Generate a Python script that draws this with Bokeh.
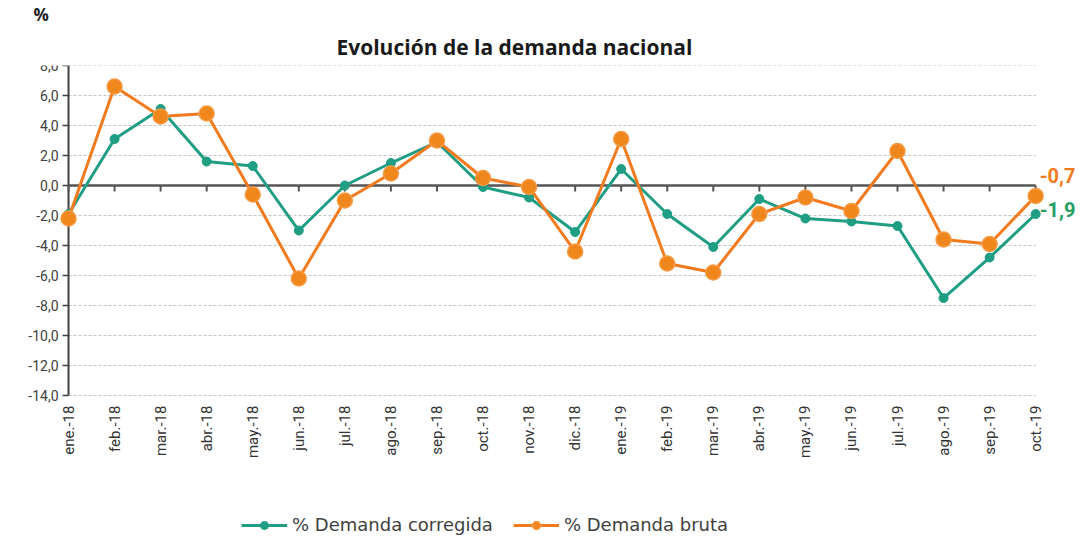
from bokeh.plotting import figure
from bokeh.models import Range1d, Label, Legend, LegendItem, ColumnDataSource, Title
from bokeh.core.properties import value
from bokeh.embed import file_html
from bokeh.resources import INLINE
import math

months = ["ene.-18", "feb.-18", "mar.-18", "abr.-18", "may.-18", "jun.-18", "jul.-18",
          "ago.-18", "sep.-18", "oct.-18", "nov.-18", "dic.-18", "ene.-19", "feb.-19",
          "mar.-19", "abr.-19", "may.-19", "jun.-19", "jul.-19", "ago.-19", "sep.-19", "oct.-19"]
corregida = [-1.9, 3.1, 5.1, 1.6, 1.3, -3.0, 0.0, 1.5, 2.9, -0.1, -0.8, -3.1, 1.1, -1.9,
             -4.1, -0.9, -2.2, -2.4, -2.7, -7.5, -4.8, -1.9]
bruta = [-2.2, 6.6, 4.6, 4.8, -0.6, -6.2, -1.0, 0.8, 3.0, 0.5, -0.1, -4.4, 3.1, -5.2,
         -5.8, -1.9, -0.8, -1.7, 2.3, -3.6, -3.9, -0.7]
y_ticks = [-14, -12, -10, -8, -6, -4, -2, 0, 2, 4, 6, 8]

GREEN = "#1f9e84"
ORANGE = "#f27a1f"
ORANGE_FILL = "#f0871c"
FONT = "Roboto"
AXIS = "#404040"

xs = list(range(len(months)))
last = len(months) - 1
ymin, ymax = min(y_ticks), max(y_ticks)
y_labels = [f"{v:.1f}".replace(".", ",") for v in y_ticks]
src = ColumnDataSource(dict(x=xs, c=corregida, b=bruta))

# the frame covers the whole canvas width and extends below the value range
# (month labels and legend are drawn inside it)
p = figure(frame_width=1078, frame_height=473, output_backend="svg", toolbar_location=None,
           x_range=Range1d(-1.477, last + 0.93), y_range=Range1d(ymin - 9.53, ymax),
           min_border_left=0, min_border_right=2, min_border_top=63, min_border_bottom=0)
p.outline_line_color = None
p.background_fill_color = "white"
p.xgrid.grid_line_color = None
p.ygrid.grid_line_color = None
p.xaxis.visible = False
p.yaxis.visible = False

# dashed grid lines over the month span
grid_y = [t for t in y_ticks if t != 0]
p.segment(x0=[0] * len(grid_y), y0=grid_y, x1=[last] * len(grid_y), y1=grid_y,
          line_color="#c4c4c4", line_dash="3 2", line_width=1)

# value axis: line, outward ticks and labels
p.segment(x0=[0], y0=[ymin], x1=[0], y1=[ymax], line_color=AXIS, line_width=2)
p.segment(x0=[0] * len(y_ticks), y0=y_ticks, x1=[-0.13] * len(y_ticks), y1=y_ticks,
          line_color=AXIS, line_width=1.5)
p.text(x=[0] * len(y_ticks), y=y_ticks, text=y_labels, x_offset=-10,
       text_align="right", text_baseline="middle", text_font=value(FONT),
       text_font_size="14px", text_color=AXIS)

# zero line with category ticks
p.segment(x0=[0], y0=[0], x1=[last], y1=[0], line_color="#555555", line_width=2.5)
p.segment(x0=xs, y0=[0] * len(xs), x1=xs, y1=[-0.4] * len(xs), line_color="#555555", line_width=2)

# month labels, vertical, under the bottom of the value range
p.text(x=xs, y=[ymin - 0.67] * len(xs), text=months, angle=math.pi / 2,
       text_align="right", text_baseline="middle", text_font=value(FONT),
       text_font_size="15px", text_color="#333333")

# series
lc = p.line("x", "c", source=src, line_color=GREEN, line_width=3)
sc = p.scatter("x", "c", source=src, size=9, fill_color=GREEN, line_color=GREEN)
lb = p.line("x", "b", source=src, line_color=ORANGE, line_width=3)
sb = p.scatter("x", "b", source=src, size=15, fill_color=ORANGE_FILL, line_color="#f59a45", line_width=1.5)

# end labels
p.add_layout(Label(x=last, y=bruta[-1], text=f"{bruta[-1]:.1f}".replace(".", ","),
                   text_color=ORANGE, text_font=FONT, text_font_style="bold", text_font_size="20px",
                   text_baseline="middle", x_offset=4, y_offset=21))
p.add_layout(Label(x=last, y=corregida[-1], text=f"{corregida[-1]:.1f}".replace(".", ","),
                   text_color="#26a064", text_font=FONT, text_font_style="bold", text_font_size="20px",
                   text_baseline="middle", x_offset=4, y_offset=5))

# title and unit (stacked in the above panel)
p.add_layout(Title(text="Evolución de la demanda nacional", align="left", offset=336,
                   text_font="Open Sans", text_font_style="bold", text_font_size="21px",
                   text_color="#1a1a1a", standoff=10), "above")
p.add_layout(Title(text="%", align="left", offset=33, text_font="Open Sans",
                   text_font_style="bold", text_font_size="17px", text_color="#222222",
                   standoff=0), "above")

legend = Legend(items=[LegendItem(label="% Demanda corregida", renderers=[lc, sc]),
                       LegendItem(label="% Demanda bruta", renderers=[lb, sb])],
                orientation="horizontal", location=(241, 3), border_line_color=None,
                background_fill_alpha=0, label_text_font="DejaVu Sans", label_text_font_size="18px",
                label_text_color="#404040", glyph_width=46, spacing=20, margin=0, padding=4)
p.add_layout(legend)

open("out.html", "w").write(file_html(p, INLINE))
